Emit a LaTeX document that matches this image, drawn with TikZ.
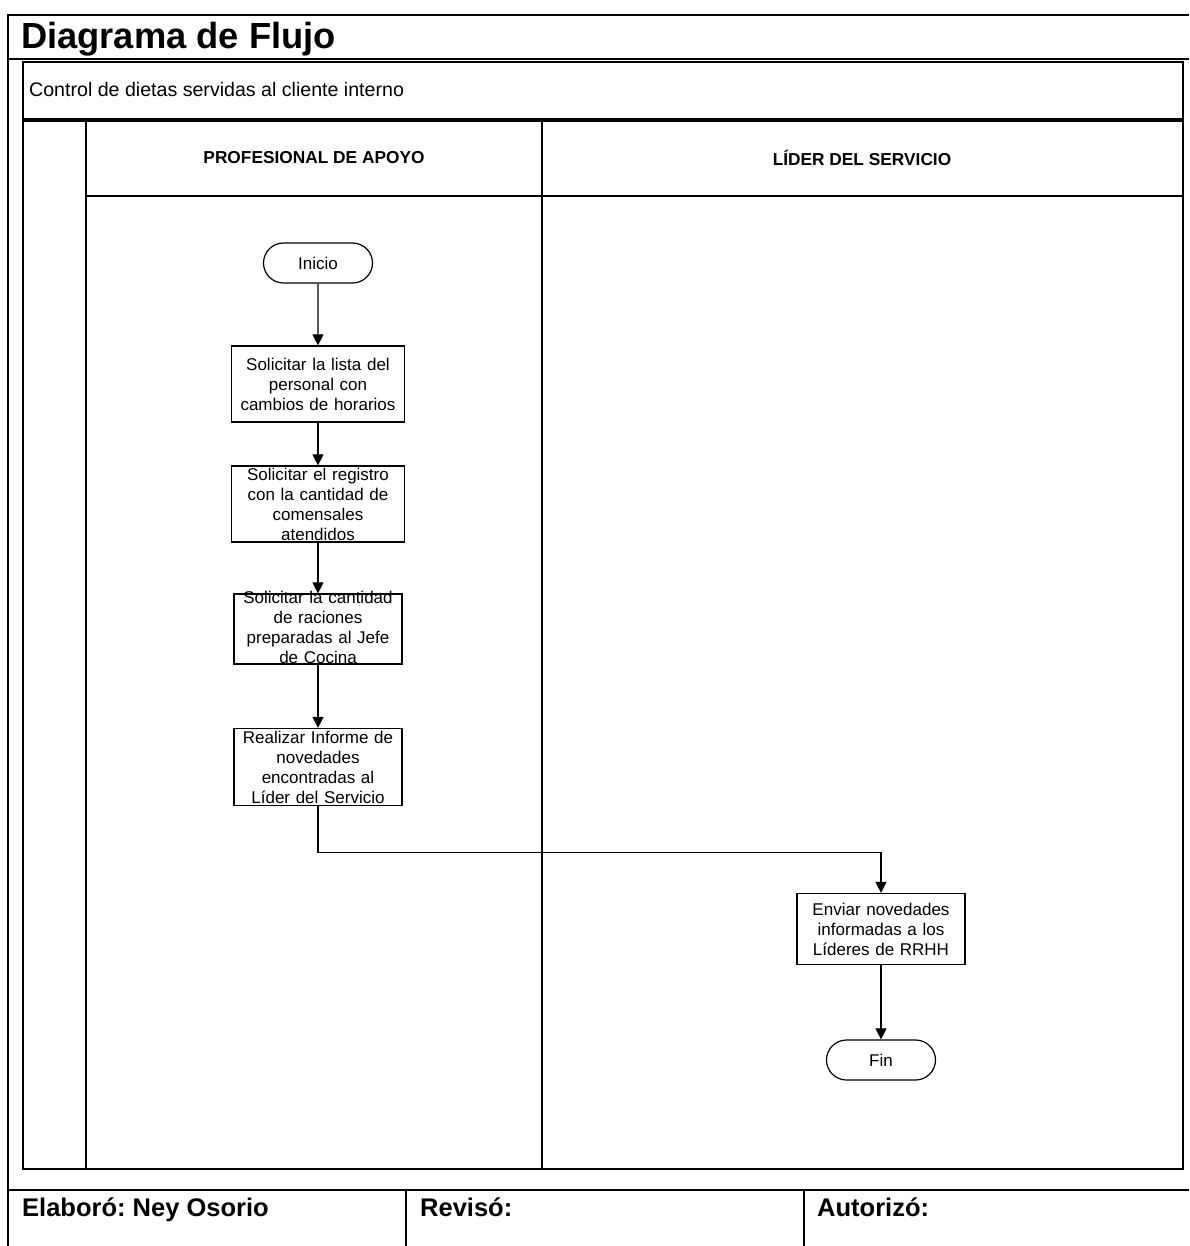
\documentclass[tikz,border=0pt]{standalone}
\usepackage{fontspec}
\setmainfont{Liberation Sans}
\usetikzlibrary{arrows.meta,shapes.misc}
\frenchspacing

\begin{document}
\begin{tikzpicture}[x=1pt,y=-1pt]
  \tikzstyle{every node}+=[inner sep=0pt]
  \tikzstyle{frameline}=[line width=2.6pt]
  \tikzstyle{laneline}=[line width=1.3pt]
  \tikzstyle{terminal}=[draw, rounded rectangle, line width=1.2pt, minimum width=109pt, minimum height=40pt, font=\fontsize{17}{20}\selectfont]
  \tikzstyle{process}=[draw, rectangle, line width=1.2pt, align=center, font=\fontsize{17}{20}\selectfont]
  \tikzstyle{flow}=[line width=1.1pt, -{Triangle[length=11pt,width=11pt]}]
  \useasboundingbox (0,0) rectangle (1189,1246);
  \draw [frameline] (8,1246) -- (8,15) -- (1189,15);
  \draw [frameline] (8,59) -- (1189,59);
  \draw [frameline] (8,1190) -- (1189,1190);
  \draw [frameline] (406,1190) -- (406,1246);
  \draw [frameline] (804,1190) -- (804,1246);
  \node [anchor=base west, font=\fontsize{36.3}{43}\selectfont\bfseries] (titulo) at (21,49) {Diagrama de Flujo};
  \draw [laneline] (23,62) rectangle (1183,119);
  \node [anchor=base west, font=\fontsize{19.6}{23}\selectfont] (proceso) at (29,97) {Control de dietas servidas al cliente interno};
  \draw [laneline] (23,121) rectangle (1183,1169);
  \draw [laneline] (86,121) -- (86,1169);
  \draw [laneline] (542,121) -- (542,1169);
  \draw [laneline] (86,196) -- (1183,196);
  \node [font=\fontsize{17.3}{20}\selectfont\bfseries] (apoyo) at (314,158) {PROFESIONAL DE APOYO};
  \node [font=\fontsize{17.3}{20}\selectfont\bfseries] (lider) at (862,158) {LÍDER DEL SERVICIO};
  \node [anchor=base west, font=\fontsize{25.5}{30}\selectfont\bfseries] (elaboro) at (22,1216) {Elaboró: Ney Osorio};
  \node [anchor=base west, font=\fontsize{25.5}{30}\selectfont\bfseries] (reviso) at (420,1216) {Revisó:};
  \node [anchor=base west, font=\fontsize{25.5}{30}\selectfont\bfseries] (autorizo) at (817,1216) {Autorizó:};

  \node [terminal] (inicio) at (318,263) {Inicio};
  \node [process, text width=167pt, minimum width=173pt, minimum height=76pt] (lista) at (318,384) {Solicitar la lista del\\personal con\\cambios de horarios};
  \node [process, text width=167pt, minimum width=173pt, minimum height=76pt] (registro) at (318,504) {Solicitar el registro\\con la cantidad de\\comensales\\atendidos};
  \node [process, text width=168pt, minimum width=168pt, text height=9.5pt, text depth=60.5pt] (raciones) at (318,629) {Solicitar la cantidad\\de raciones\\preparadas al Jefe\\de Cocina};
  \node [process, text width=166pt, minimum width=168pt, minimum height=77pt] (informe) at (318,767) {Realizar Informe de\\novedades\\encontradas al\\Líder del Servicio};
  \node [process, text width=163pt, minimum width=168pt, minimum height=71pt] (enviar) at (881,929) {Enviar novedades\\informadas a los\\Líderes de RRHH};
  \node [terminal] (fin) at (881,1060) {Fin};

  \draw [flow] (inicio) -- (lista);
  \draw [flow] (lista) -- (registro);
  \draw [flow] (registro) -- (raciones);
  \draw [flow] (raciones) -- (informe);
  \draw [flow] (informe.south) -- ++(0,46) -| (enviar.north);
  \draw [flow] (enviar) -- (fin);
\end{tikzpicture}
\end{document}
